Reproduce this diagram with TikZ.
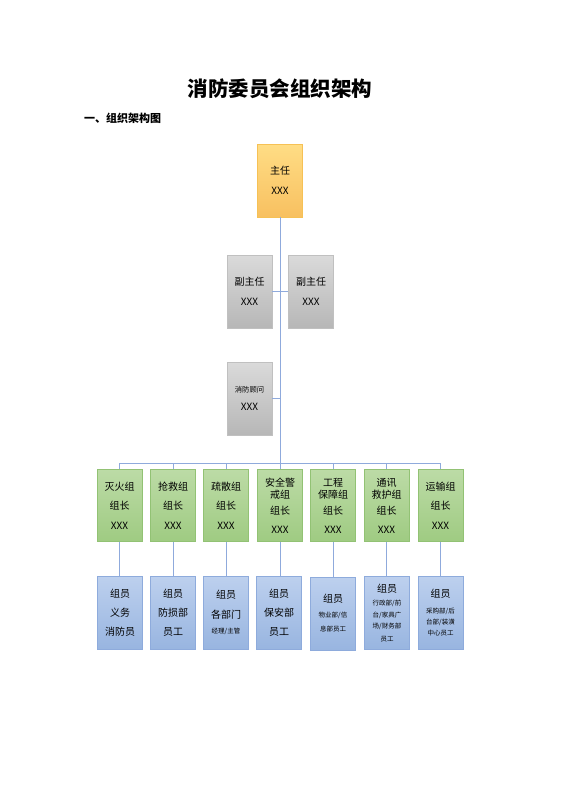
\documentclass[tikz,border=0pt]{standalone}
\usepackage{fontspec}
\newfontfamily\cjk{Noto Sans CJK SC}
\newcommand\mainsz{\fontsize{10}{12}\selectfont}
\newcommand\smsz{\fontsize{6.5}{12}\selectfont}
\definecolor{lnblue}{HTML}{8FAADC}
\definecolor{orT}{HTML}{FFDD85}
\definecolor{orB}{HTML}{F8C060}
\definecolor{orD}{HTML}{F6C155}
\definecolor{grT}{HTML}{DADADA}
\definecolor{grB}{HTML}{B7B7B7}
\definecolor{grD}{HTML}{C0C0C0}
\definecolor{gnT}{HTML}{BCDBA6}
\definecolor{gnB}{HTML}{9FCB82}
\definecolor{gnD}{HTML}{92C274}
\definecolor{blT}{HTML}{BDD0EE}
\definecolor{blB}{HTML}{98B5E0}
\definecolor{blD}{HTML}{8EABDC}
\tikzset{
  box/.style={line width=0.7pt, minimum width=45pt, minimum height=73pt, inner sep=0pt, align=center, font=\cjk\mainsz},
  obox/.style={box, draw=orD, top color=orT, bottom color=orB},
  gbox/.style={box, draw=grD, top color=grT, bottom color=grB},
  nbox/.style={box, draw=gnD, top color=gnT, bottom color=gnB, minimum height=72pt},
  bbox/.style={box, draw=blD, top color=blT, bottom color=blB},
  conn/.style={draw=lnblue, line width=0.8pt},
}
\begin{document}
\begin{tikzpicture}[x=1pt,y=-1pt]
\useasboundingbox (0,0) rectangle (560,792);
\fill[white] (0,0) rectangle (560,792);
\node[font=\cjk\bfseries\fontsize{20.5}{24}\selectfont] (title) at (280,89) {消防委员会组织架构};
\node[font=\cjk\bfseries\fontsize{11}{13}\selectfont, anchor=west, inner sep=0pt] (sub) at (84,118) {一、组织架构图};
% top
\node[obox] (zr) at (280,180.5) {主任\\[8pt]XXX};
\node[gbox] (fz1) at (249.5,291.5) {副主任\\[8pt]XXX};
\node[gbox] (fz2) at (311,291.5) {副主任\\[8pt]XXX};
\node[gbox] (gw) at (249.5,398.5) {{\fontsize{7.3}{12}\selectfont 消防顾问}\\[6pt]XXX};
% groups
\node[nbox] (g1) at (119.5,505.5) {灭火组\\[7.5pt]组长\\[7.5pt]XXX};
\node[nbox] (g2) at (173,505.5) {抢救组\\[7.5pt]组长\\[7.5pt]XXX};
\node[nbox] (g3) at (226,505.5) {疏散组\\[7.5pt]组长\\[7.5pt]XXX};
\node[nbox] (g4) at (280,505.5) {安全警\\戒组\\[4pt]组长\\[7pt]XXX};
\node[nbox] (g5) at (333,505.5) {工程\\保障组\\[4pt]组长\\[7pt]XXX};
\node[nbox] (g6) at (386.5,505.5) {通讯\\救护组\\[4pt]组长\\[7pt]XXX};
\node[nbox] (g7) at (440.5,505.5) {运输组\\[7.5pt]组长\\[7.5pt]XXX};
% members
\node[bbox] (b1) at (120,612.5) {组员\\[7pt]义务\\[7pt]消防员};
\node[bbox] (b2) at (173,612.5) {组员\\[7pt]防损部\\[7pt]员工};
\node[bbox] (b3) at (226,612.5) {组员\\[8pt]各部门\\[3pt]{\smsz 经理/主管}};
\node[bbox] (b4) at (279,612.5) {组员\\[7pt]保安部\\[7pt]员工};
\node[bbox] (b5) at (333,613.5) {组员\\[3pt]{\smsz 物业部/信}\\[2pt]{\smsz 息部员工}};
\node[bbox] (b6) at (387,613) {组员\\[1pt]{\smsz 行政部/前}\\[0pt]{\smsz 台/家具广}\\[-1pt]{\smsz 场/财务部}\\[1pt]{\smsz 员工}};
\node[bbox] (b7) at (440.5,612.5) {组员\\[4pt]{\smsz 采购部/后}\\[-1pt]{\smsz 台部/装潢}\\[-1pt]{\smsz 中心员工}};
% connectors
\coordinate (bus) at (280,463);
\draw[conn] (zr.south) -- (bus);
\draw[conn] (fz1.east) -- (fz2.west);
\draw[conn] (gw.east) -- (gw.east -| zr.south);
\draw[conn] (g1.north |- bus) -- (g7.north |- bus);
\foreach \i in {1,...,7} {
  \draw[conn] (g\i.north |- bus) -- (g\i.north);
  \draw[conn] (g\i.south) -- (g\i.south |- b\i.north);
}
\end{tikzpicture}
\end{document}
